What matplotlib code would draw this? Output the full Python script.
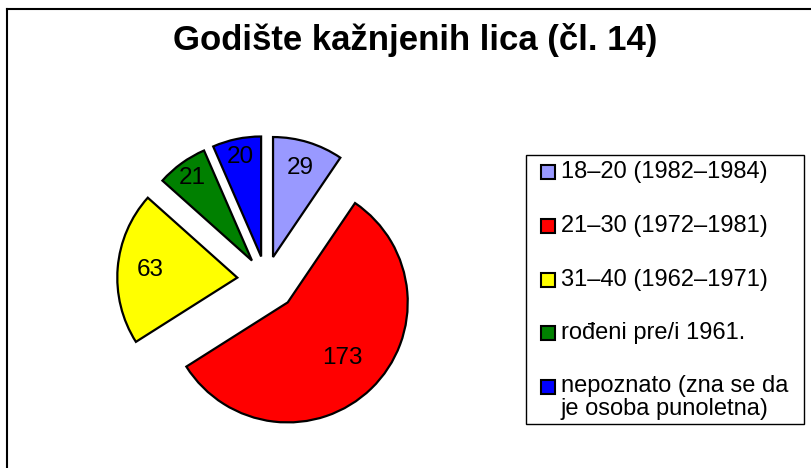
import matplotlib
matplotlib.use("Agg")
import matplotlib.pyplot as plt
import numpy as np
from matplotlib.patches import Rectangle
from matplotlib.lines import Line2D

title = 'Godište kažnjenih lica (čl. 14)'
labels = ['18–20 (1982–1984)', '21–30 (1972–1981)', '31–40 (1962–1971)',
          'rođeni pre/i 1961.', 'nepoznato (zna se da\nje osoba punoletna)']
values = [29, 173, 63, 21, 20]
colors = ['#9999FF', '#FF0000', '#FFFF00', '#008000', '#0000FF']
explode = [0.2, 0.26, 0.24, 0.2, 0.2]
label_r = [0.78, 0.65, 0.73, 0.85, 0.85]

plt.rcParams['font.family'] = ['Liberation Sans', 'DejaVu Sans']

W, H = 811, 468
fig = plt.figure(figsize=(W / 100, H / 100), dpi=100)

def fx(x):
    return x / W

def fy(y):
    return 1 - y / H

# pie in its own axes, radius 1 == 120 px
cx, cy, R = 266, 280, 120
ax = fig.add_axes([0, 0, 1, 1])
wedges, _ = ax.pie(values, colors=colors, explode=explode, startangle=90,
                   counterclock=False, radius=1,
                   wedgeprops=dict(edgecolor='black', linewidth=1.6))
for w, v, f in zip(wedges, values, label_r):
    ang = np.deg2rad((w.theta1 + w.theta2) / 2)
    x0, y0 = w.center
    ax.text(x0 + f * np.cos(ang), y0 + f * np.sin(ang), str(v),
            ha='center', va='center', fontsize=17.5)
ax.set_xlim(-cx / R, (W - cx) / R)
ax.set_ylim(-(H - cy) / R, cy / R)
ax.axis('off')

fig.text(fx(415), fy(40), title, ha='center', va='center',
         fontsize=25, fontweight='bold')

# outer frame (top and left only visible)
fig.add_artist(Line2D([fx(7), fx(7)], [0, fy(9)], color='black', lw=1.5))
fig.add_artist(Line2D([fx(7), 1], [fy(9), fy(9)], color='black', lw=1.5))

# legend box
lx0, ly0, lx1, ly1 = 526, 155, 804, 424
fig.add_artist(Rectangle((fx(lx0), fy(ly1)), fx(lx1 - lx0), (ly1 - ly0) / H,
                         facecolor='white', edgecolor='black', lw=1))
rows = [172, 226, 280, 333, 387]
for lab, col, ry in zip(labels, colors, rows):
    fig.add_artist(Rectangle((fx(541), fy(ry + 7)), 14 / W, 14 / H,
                             facecolor=col, edgecolor='black', lw=1.5))
    if '\n' in lab:
        fig.text(fx(561), fy(ry - 12), lab, ha='left', va='top',
                 fontsize=17, linespacing=1.05)
    else:
        fig.text(fx(561), fy(ry), lab, ha='left', va='center', fontsize=17)

fig.savefig('out.png', dpi=100)
